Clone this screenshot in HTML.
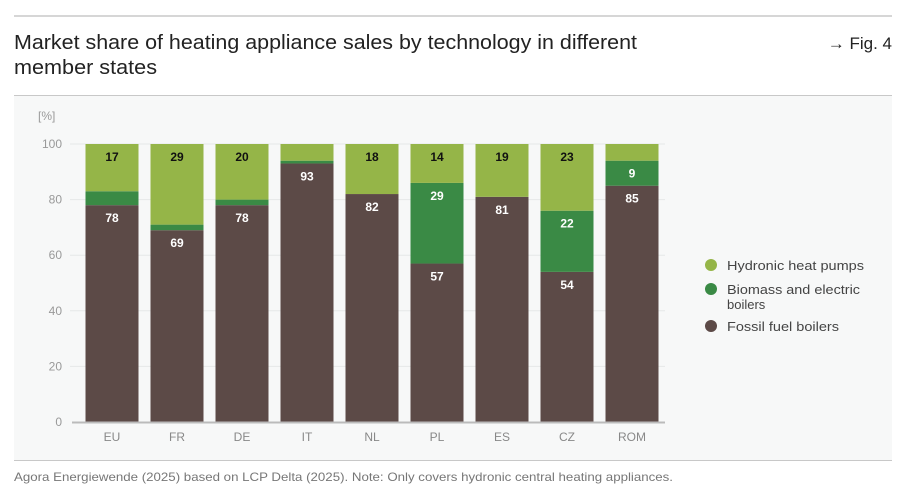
<!DOCTYPE html>
<html><head><meta charset="utf-8"><style>
body{margin:0;background:#fff;font-family:"Liberation Sans",sans-serif;}
#wrap{position:relative;width:909px;height:497px;overflow:hidden;}
</style></head><body>
<div id="wrap">
<svg width="909" height="497" xmlns="http://www.w3.org/2000/svg" id="svg">
<line x1="14" y1="16" x2="892" y2="16" stroke="#c8c8c8" stroke-width="1.5"/>
<text x="14" y="49" font-size="20" fill="#222" textLength="623" lengthAdjust="spacingAndGlyphs">Market share of heating appliance sales by technology in different</text>
<text x="14" y="74" font-size="20" fill="#222" textLength="143" lengthAdjust="spacingAndGlyphs">member states</text>
<text x="892" y="49" font-size="17" fill="#222" text-anchor="end">→ Fig. 4</text>
<rect x="14" y="95" width="878" height="365" fill="#f7f8f8"/>
<line x1="14" y1="95.5" x2="892" y2="95.5" stroke="#c8c8c8"/>
<line x1="14" y1="460.5" x2="892" y2="460.5" stroke="#c8c8c8"/>
<text x="38" y="120" font-size="12" fill="#999">[%]</text>
<g id="chart"></g>
<g>
<circle cx="711" cy="265" r="6" fill="#95b548"/>
<text x="727" y="270" font-size="13" fill="#444" textLength="137" lengthAdjust="spacingAndGlyphs">Hydronic heat pumps</text>
<circle cx="711" cy="289" r="6" fill="#3a8a45"/>
<text x="727" y="294" font-size="13" fill="#444" textLength="133" lengthAdjust="spacingAndGlyphs">Biomass and electric</text>
<text x="727" y="309" font-size="13" fill="#444">boilers</text>
<circle cx="711" cy="326" r="6" fill="#5c4a47"/>
<text x="727" y="331" font-size="13" fill="#444" textLength="112" lengthAdjust="spacingAndGlyphs">Fossil fuel boilers</text>
</g>
<text x="14" y="481" font-size="12" fill="#777" textLength="659" lengthAdjust="spacingAndGlyphs">Agora Energiewende (2025) based on LCP Delta (2025). Note: Only covers hydronic central heating appliances.</text>
</svg>
</div>
<script>
const categories=["EU","FR","DE","IT","NL","PL","ES","CZ","ROM"];
const fossil=[78,69,78,93,82,57,81,54,85];
const biomass=[5,2,2,1,0,29,0,22,9];
const heatPumps=[17,29,20,6,18,14,19,23,6];
const showHp=[true,true,true,false,true,true,true,true,false];
const showBio=[false,false,false,false,false,true,false,true,true];
const yTicks=[0,20,40,60,80,100];
const NS="http://www.w3.org/2000/svg";
const g=document.getElementById('chart');
const y0=422,y100=144;
function y(v){return y0-(y0-y100)*v/100;}
function x(i){return 112+65*i;}
const bw=53;
function el(t,a){const e=document.createElementNS(NS,t);for(const k in a)e.setAttribute(k,a[k]);g.appendChild(e);return e;}
yTicks.forEach(t=>{
 if(t>0){const l=el('line',{x1:70,x2:665,y1:y(t),y2:y(t),stroke:'#e6e8e8'});
 
 }
 const tx=el('text',{x:62,y:y(t)+4,'font-size':12,fill:'#999','text-anchor':'end'});tx.textContent=t;
 
 
});
categories.forEach((c,i)=>{
 const total=fossil[i]+biomass[i]+heatPumps[i];
 const segs=[[fossil[i],'#5c4a47','fossil',true,'#fff'],[biomass[i],'#3a8a45','biomass',showBio[i],'#fff'],[heatPumps[i],'#95b548','heat-pumps',showHp[i],'#111']];
 let base=0;
 segs.forEach((s,k)=>{
  let top=base+s[0];
  if(k===2&&total>=98&&total<100)top=100;
  if(s[0]>0){
   const r=el('rect',{x:x(i)-bw/2,y:y(top),width:bw,height:y(base)-y(top),fill:s[1]});
   
   
   if(s[3]){
    const t=el('text',{x:x(i),y:y(top)+17,'font-size':12,'font-weight':'bold',fill:s[4],'text-anchor':'middle'});
    t.textContent=s[0];
    
    
   }
  }
  base=top;
 });
 const lb=el('text',{x:x(i),y:441,'font-size':12,fill:'#888','text-anchor':'middle'});
 lb.textContent=c;
 
 
});
const ax=el('line',{x1:72,x2:665,y1:y0+0.5,y2:y0+0.5,stroke:'#bbb','stroke-width':2});


</script>
</body></html>
